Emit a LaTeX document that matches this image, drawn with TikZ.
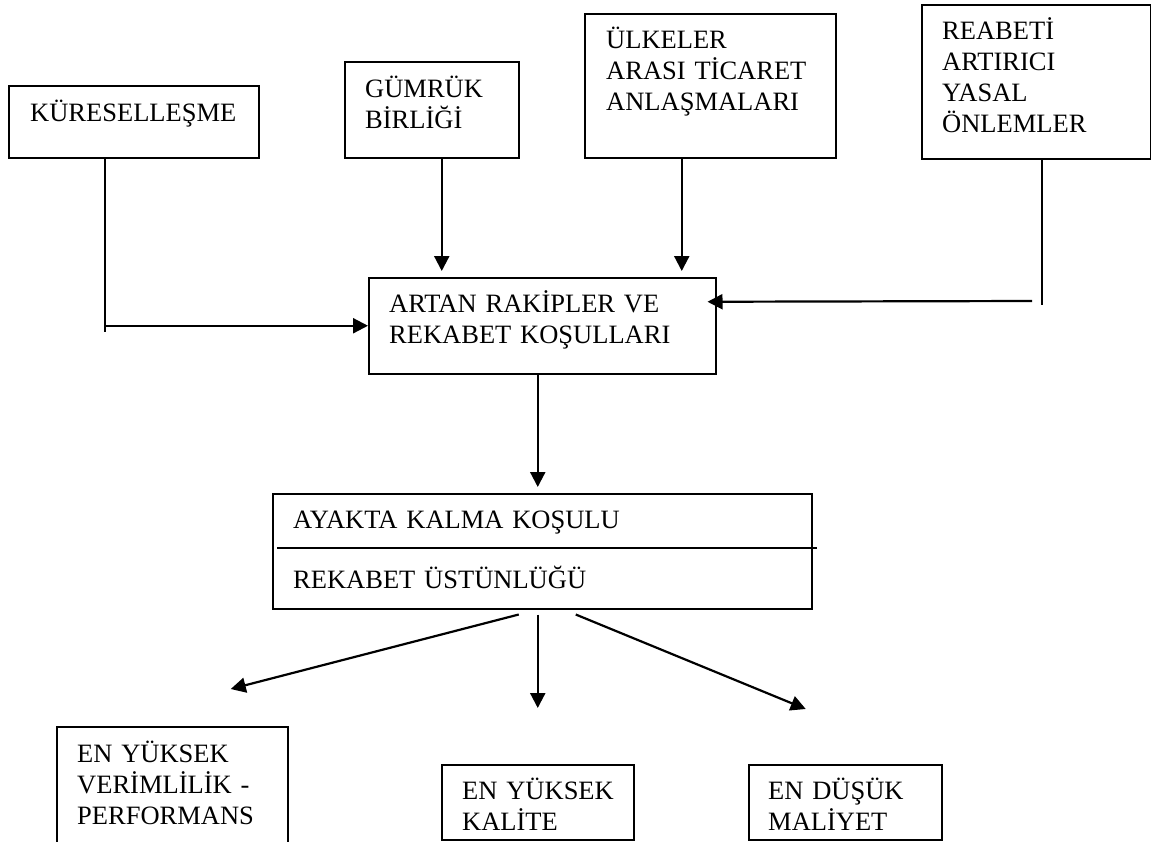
\documentclass[tikz,border=0pt]{standalone}
\usepackage{fontspec}
\setmainfont{Liberation Serif}
\usetikzlibrary{arrows.meta}
\begin{document}
\begin{tikzpicture}[x=1pt,y=-1pt,
  frame/.style={draw, line width=1.5pt, inner sep=0pt, anchor=north west},
  boxtext/.style={anchor=base west, inner sep=0pt, align=left, text width=360pt,
    font=\fontsize{26.5}{31}\selectfont},
  link/.style={line width=2.2pt},
  arr/.style={link, -{Triangle[length=15pt,width=15pt]}}
]
\useasboundingbox (0,0) rectangle (1151,841);
\clip (0,0) rectangle (1151,841);

% top row of causes
\node[frame, minimum width=250pt, minimum height=72pt]  (kur)     at (8,85)   {};
\node[frame, minimum width=174pt, minimum height=96pt]  (gumruk)  at (344,61) {};
\node[frame, minimum width=251pt, minimum height=144pt] (ulkeler) at (584,13) {};
\node[frame, minimum width=229pt, minimum height=154pt] (reabeti) at (921,4)  {};

\node[boxtext] (kurT)     at (30,121)  {KÜRESELLEŞME};
\node[boxtext] (gumrukT)  at (365,97)  {GÜMRÜK\\BİRLİĞİ};
\node[boxtext] (ulkelerT) at (606,48)  {ÜLKELER\\ARASI TİCARET\\ANLAŞMALARI};
\node[boxtext] (reabetiT) at (942,39)  {REABETİ\\ARTIRICI\\YASAL\\ÖNLEMLER};

% central effect
\node[frame, minimum width=347pt, minimum height=96pt] (artan) at (368,277) {};
\node[boxtext] (artanT) at (389,312) {ARTAN RAKİPLER VE\\REKABET KOŞULLARI};

% survival condition box with a dividing rule
\node[frame, minimum width=539pt, minimum height=115pt] (ayakta) at (272,493) {};
\node[boxtext] (ayaktaT) at (293,528) {AYAKTA KALMA KOŞULU};
\node[boxtext] (ustunT)  at (293,588) {REKABET ÜSTÜNLÜĞÜ};
\coordinate (divL) at (277,548);
\coordinate (divR) at (817,548);
\draw[line width=1.6pt] (divL) -- (divR);

% outcomes
\node[frame, minimum width=231pt, minimum height=130pt] (verim)   at (56,726)  {};
\node[frame, minimum width=192pt, minimum height=75pt]  (kalite)  at (441,764) {};
\node[frame, minimum width=193pt, minimum height=75pt]  (maliyet) at (748,764) {};

\node[boxtext] (verimT)   at (77,762)  {EN YÜKSEK\\VERİMLİLİK -\\PERFORMANS};
\node[boxtext] (kaliteT)  at (462,799) {EN YÜKSEK\\KALİTE};
\node[boxtext] (maliyetT) at (768,799) {EN DÜŞÜK\\MALİYET};

% connectors into the central box
\draw[link] ([xshift=97pt]kur.south west) -- ++(0,173);
\draw[arr] ([xshift=97pt]kur.south west |- artan.west) -- (artan.west);
\draw[arr] ([xshift=10pt]gumruk.south) -- ([xshift=-100.5pt,yshift=6pt]artan.north);
\draw[arr] ([xshift=-28.5pt]ulkeler.south) -- ([xshift=139.5pt,yshift=6pt]artan.north);
\draw[link] ([xshift=5.5pt]reabeti.south) -- ++(0,145);
\coordinate (rcorner) at (1032,301);
\draw[arr] (rcorner) -- ([xshift=-9pt,yshift=24pt]artan.east);

% central box to survival condition
\draw[arr] ([xshift=-4.5pt]artan.south) -- ([xshift=-4.5pt,yshift=6pt]ayakta.north);

% survival condition to outcomes
\draw[arr] ([xshift=-23.5pt,yshift=-5pt]ayakta.south) -- ([xshift=58.5pt,yshift=37pt]verim.north);
\draw[arr] ([xshift=-4.5pt,yshift=-5pt]ayakta.south) -- ([yshift=56pt]kalite.north);
\draw[arr] ([xshift=33.5pt,yshift=-5pt]ayakta.south) -- ([xshift=-39.5pt,yshift=55pt]maliyet.north);
\end{tikzpicture}
\end{document}
